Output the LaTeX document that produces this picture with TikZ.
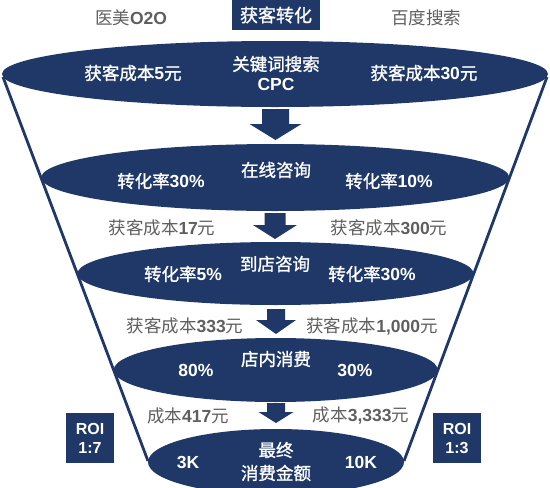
\documentclass[tikz,border=0pt]{standalone}
\usepackage{fontspec}
\setmainfont{Liberation Sans}
\newfontfamily\cjk{Noto Sans CJK SC}
\newfontfamily\cjkw[FakeBold=1.2]{Noto Sans CJK SC}
\definecolor{navy}{RGB}{31,56,104}
\definecolor{txtgray}{RGB}{95,95,95}
\newcommand{\zh}[1]{{\cjk #1}}
\newcommand{\zw}[1]{{\cjkw #1}}
\newcommand{\barrow}[6]{%
  \fill[navy] ({#1-#5},#2) -- ({#1+#5},#2) -- ({#1+#5},#3) -- ({#1+#6},#3) -- (#1,#4) -- ({#1-#6},#3) -- ({#1-#5},#3) -- cycle;}
\begin{document}
\begin{tikzpicture}[x=1pt,y=-1pt,
  wt/.style={text=white, font=\fontsize{17.5}{20}\selectfont, inner sep=0pt},
  gt/.style={text=txtgray, font=\fontsize{17.5}{20}\selectfont, inner sep=0pt},
  funnel/.style={draw=navy, line width=2.8pt},
  layer/.style={fill=navy},
  roibox/.style={fill=navy, text=white, minimum width=48pt, minimum height=50pt, inner sep=0pt, align=center, font=\fontsize{16}{19}\selectfont\bfseries}
]
\useasboundingbox (0,0) rectangle (550,488);
\clip (0,0) rectangle (550,488);
% funnel sides
\coordinate (lt) at (3,77);
\coordinate (lb) at (148,461);
\coordinate (rt) at (547,77);
\coordinate (rb) at (404,461);
\draw[funnel] (lt) -- (lb);
\draw[funnel] (rt) -- (rb);
% layers
\fill[layer] (275,74) ellipse [x radius=273, y radius=33];
\fill[layer] (275.3,177.5) ellipse [x radius=234, y radius=33.5];
\fill[layer] (275.5,273.5) ellipse [x radius=198, y radius=31.5];
\fill[layer] (275.7,370) ellipse [x radius=162, y radius=32];
\fill[layer] (276,462) ellipse [x radius=128, y radius=33];
% arrows
\barrow{275.5}{109}{124}{140}{13.5}{26}
\barrow{275}{213}{225}{239}{10.5}{22}
\barrow{276}{309}{320}{334}{9}{20}
\barrow{276}{403}{412}{423}{9}{17.5}
% header
\node[gt] (t1) at (131,18) {\zh{医美}\textbf{O2O}};
\node[fill=navy, text=white, minimum width=88pt, minimum height=30pt, inner sep=0pt, font=\fontsize{18}{20}\selectfont] (t2) at (276,15) {\zw{获客转化}};
\node[gt] (t3) at (426,18) {\zh{百度搜索}};
% layer 1
\node[wt] (e1l) at (133,73) {\zw{获客成本}\textbf{5}\zw{元}};
\node[wt] (e1c) at (276,64) {\zw{关键词搜索}};
\node[wt] (e1d) at (276,84) {\textbf{CPC}};
\node[wt] (e1r) at (424,73) {\zw{获客成本}\textbf{30}\zw{元}};
% layer 2
\node[wt] (e2c) at (276,170) {\zw{在线咨询}};
\node[wt] (e2l) at (161,181) {\zw{转化率}\textbf{30\%}};
\node[wt] (e2r) at (389,181) {\zw{转化率}\textbf{10\%}};
\node[gt] (l2l) at (162,228) {\zh{获客成本}\textbf{17}\zh{元}};
\node[gt] (l2r) at (389,228) {\zh{获客成本}\textbf{300}\zh{元}};
% layer 3
\node[wt] (e3c) at (275,264) {\zw{到店咨询}};
\node[wt] (e3l) at (183,274) {\zw{转化率}\textbf{5\%}};
\node[wt] (e3r) at (372,274) {\zw{转化率}\textbf{30\%}};
\node[gt] (l3l) at (185,326) {\zh{获客成本}\textbf{333}\zh{元}};
\node[gt] (l3r) at (372,326) {\zh{获客成本}\textbf{1,000}\zh{元}};
% layer 4
\node[wt] (e4c) at (276,359) {\zw{店内消费}};
\node[wt] (e4l) at (196,370) {\textbf{80\%}};
\node[wt] (e4r) at (355,370) {\textbf{30\%}};
\node[gt] (l4l) at (188,416) {\zh{成本}\textbf{417}\zh{元}};
\node[gt] (l4r) at (361,416) {\zh{成本}\textbf{3,333}\zh{元}};
% layer 5
\node[wt] (e5a) at (276,450) {\zw{最终}};
\node[wt] (e5b) at (276,473) {\zw{消费金额}};
\node[wt] (e5l) at (188,462) {\textbf{3K}};
\node[wt] (e5r) at (361,462) {\textbf{10K}};
% ROI boxes
\node[roibox] (roi1) at (90,438) {ROI\\1:7};
\node[roibox] (roi2) at (457,438) {ROI\\1:3};
\end{tikzpicture}
\end{document}
